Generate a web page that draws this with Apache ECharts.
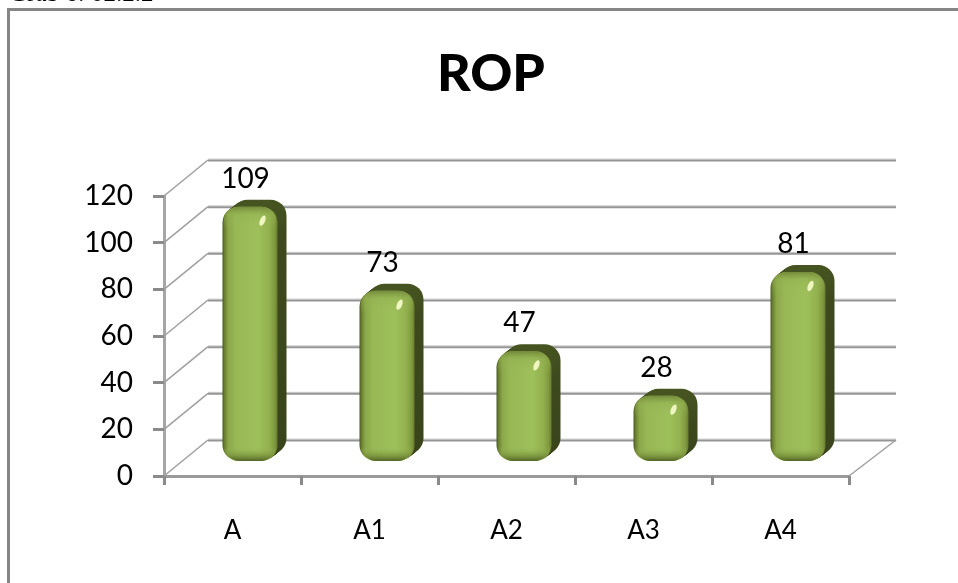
<!DOCTYPE html>
<html><head><meta charset="utf-8">
<style>html,body{margin:0;padding:0;background:#fff}#c{width:958px;height:583px}</style>
<script src="https://cdn.jsdelivr.net/npm/echarts@6/dist/echarts.min.js"></script>
</head><body><div id="c"></div>
<script>
const categories = ['A', 'A1', 'A2', 'A3', 'A4'];
const values = [109, 73, 47, 28, 81];
const yTicks = [0, 20, 40, 60, 80, 100, 120];
const titleText = 'ROP';
const captionText = 'Grab 6: 02.2.2';

const FONT = 'Lato';
const GRID = '#959595';

const chart = echarts.init(document.getElementById('c'));

function renderWall(params, api) {
  const v = api.value(0);
  const cs = params.coordSys;
  const y = api.coord([0, v])[1];
  const l = cs.x, r = cs.x + cs.width;
  const dy = -36, dxL = 44, dxR = 47;
  const ch = [
    {type: 'line', shape: {x1: l, y1: y, x2: l + dxL, y2: y + dy}, style: {stroke: '#a0a0a0', lineWidth: 1.5}},
    {type: 'line', shape: {x1: l + dxL, y1: y + dy - 1, x2: r + dxR, y2: y + dy - 1}, style: {stroke: '#d2d2d2', lineWidth: 1}},
    {type: 'line', shape: {x1: l + dxL, y1: y + dy + 0.5, x2: r + dxR, y2: y + dy + 0.5}, style: {stroke: GRID, lineWidth: 2}}
  ];
  if (v === 0) ch.push({type: 'line', shape: {x1: r, y1: y, x2: r + dxR, y2: y + dy}, style: {stroke: '#a0a0a0', lineWidth: 1.5}});
  return {type: 'group', children: ch};
}

function renderBar(params, api) {
  const i = api.value(0), v = api.value(1);
  const top = api.coord([i, v]);
  const base = api.coord([i, 0]);
  const x = top[0] - 10, w = 55, r = 16;
  const yT = top[1] - 15, yB = base[1] - 15;
  const h = yB - yT;
  const depthX = 9, depthY = -7;
  const ch = [];
  const steps = 9;
  for (let s = steps; s >= 1; s--) {
    const t = s / steps;
    ch.push({type: 'rect',
      shape: {x: x + depthX * t, y: yT + depthY * t, width: w, height: h, r: r},
      style: {fill: {type: 'linear', x: 0, y: 0, x2: 0, y2: 1, colorStops: [
        {offset: 0, color: '#465421'}, {offset: Math.min(0.9, 30 / h), color: '#3e4a1d'}, {offset: 1, color: '#39441b'}]}}});
  }
  ch.push({type: 'rect', shape: {x: x, y: yT, width: w, height: h, r: r},
    style: {fill: {type: 'linear', x: 0, y: 0, x2: 1, y2: 0, colorStops: [
      {offset: 0, color: '#4a5a22'}, {offset: 0.04, color: '#6c8132'}, {offset: 0.11, color: '#8ca84a'},
      {offset: 0.25, color: '#98b755'}, {offset: 0.65, color: '#9ec05b'}, {offset: 0.85, color: '#93b04e'},
      {offset: 0.95, color: '#7f983e'}, {offset: 1, color: '#667b30'}]}}});
  const a = 22 / h, b = 1 - 14 / h;
  ch.push({type: 'rect', shape: {x: x + 1, y: yT, width: w - 2, height: h, r: r},
    style: {fill: {type: 'linear', x: 0, y: 0, x2: 0, y2: 1, colorStops: [
      {offset: 0, color: 'rgba(105,125,50,0.8)'}, {offset: a * 0.35, color: 'rgba(145,175,80,0.5)'},
      {offset: a, color: 'rgba(155,187,89,0)'}, {offset: b, color: 'rgba(155,187,89,0)'},
      {offset: 1 - 6 / h, color: 'rgba(115,140,55,0.6)'}, {offset: 1, color: 'rgba(80,98,38,1)'}]}}});
  ch.push({type: 'ellipse', shape: {cx: x + 40, cy: yT + 14, rx: 2.6, ry: 5.5},
    rotation: -0.4, originX: x + 40, originY: yT + 14,
    style: {fill: '#f0f6c0'}});
  ch.push({type: 'text', x: top[0] + 13, y: yT + depthY - 21,
    style: {text: String(v), fill: '#000', font: '28px ' + FONT, align: 'center', verticalAlign: 'middle'}});
  return {type: 'group', children: ch};
}

chart.setOption({
  animation: false,
  backgroundColor: '#fff',
  title: {text: titleText, left: 486, top: 43, textAlign: 'center',
    textStyle: {fontFamily: 'Lato', fontWeight: 900, fontSize: 52, color: '#000'}},
  grid: {left: 164, right: 109, top: 196, bottom: 107, containLabel: false},
  xAxis: {type: 'category', data: categories,
    axisLine: {lineStyle: {color: '#9a9a9a', width: 3}},
    axisTick: {show: true, length: 9, lineStyle: {color: '#8a8a8a', width: 3}},
    axisLabel: {margin: 42, fontSize: 26, fontFamily: FONT, color: '#000', interval: 0},
    splitLine: {show: false}},
  yAxis: {type: 'value', min: 0, max: 120, interval: 20,
    axisLine: {show: true, lineStyle: {color: '#a6a6a6', width: 3}},
    axisTick: {show: true, length: 11, lineStyle: {color: '#8a8a8a', width: 3}},
    axisLabel: {margin: 31, fontSize: 28, fontFamily: FONT, color: '#000', padding: [7, 0, 0, 0]},
    splitLine: {show: false}},
  graphic: [
    {type: 'line', shape: {x1: 8.5, y1: 9.5, x2: 958, y2: 9.5}, style: {stroke: '#868686', lineWidth: 3}},
    {type: 'line', shape: {x1: 8.5, y1: 8, x2: 8.5, y2: 583}, style: {stroke: '#868686', lineWidth: 3}},
    {type: 'text', x: 9, y: -18, style: {text: captionText, fill: '#000', font: '25px "Liberation Serif"'}}
  ],
  series: [
    {type: 'custom', z: 1, data: yTicks.map(v => [v]), renderItem: renderWall, encode: {y: 0}, silent: true},
    {type: 'custom', z: 3, data: values.map((v, i) => [i, v]), renderItem: renderBar, encode: {x: 0, y: 1}, clip: false}
  ]
});
</script></body></html>
